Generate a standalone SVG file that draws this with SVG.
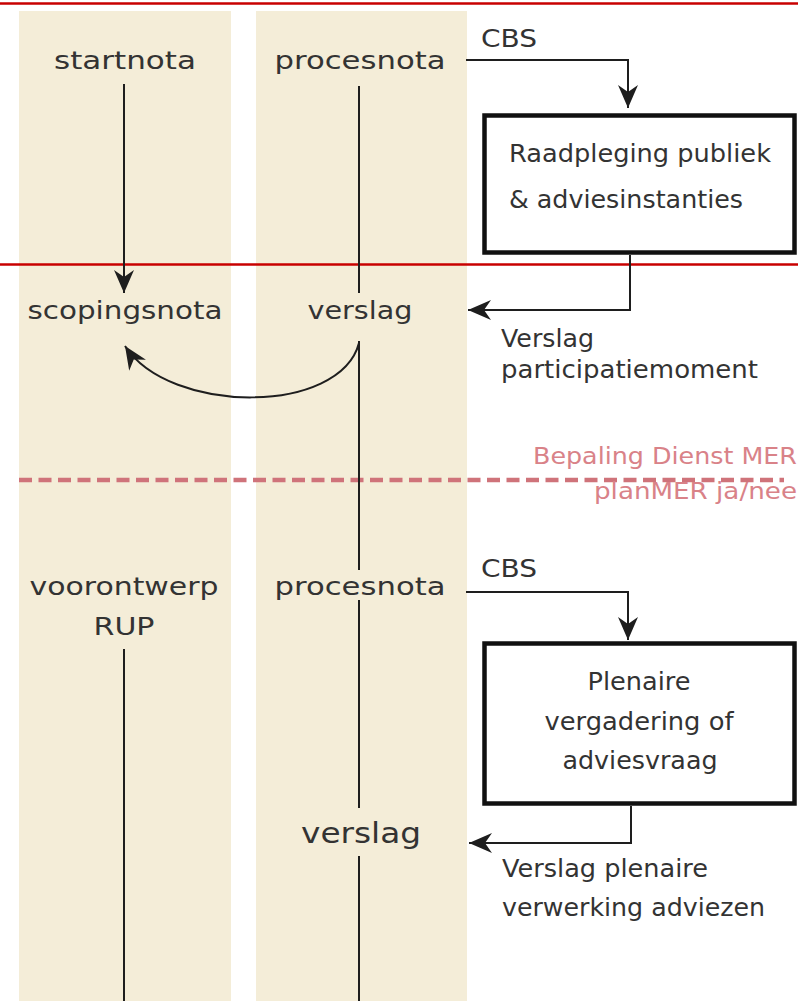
<svg xmlns="http://www.w3.org/2000/svg" width="798" height="1001" viewBox="0 0 798 1001">
<style>
.band{fill:#F4EDD8}
.red{stroke:#C80000;stroke-width:2.5}
.dash{stroke:#CF737A;stroke-width:4.5;stroke-dasharray:13 6.5;fill:none}
.t{font-family:"DejaVu Sans","Noto Sans",sans-serif;fill:#333}
.big{font-size:25px}
.sm{font-size:24px}
.pink{fill:#D98288;font-size:23px}
.c{text-anchor:middle}
.e{text-anchor:end}
.box{fill:#fff;stroke:#111;stroke-width:4.5}
.ln{stroke:#1e1e1e;stroke-width:2;fill:none}
</style>
<defs>
<marker id="ah" viewBox="-24 -11 25 22" refX="0" refY="0" markerWidth="25" markerHeight="22" markerUnits="userSpaceOnUse" orient="auto">
<path d="M0,0 L-23,-10 L-16,0 L-23,10 Z" fill="#1e1e1e"/>
</marker>
</defs>
<rect width="798" height="1001" fill="#fff"/>
<g id="bands">
<rect class="band" x="19" y="11" width="212" height="990"/>
<rect class="band" x="256" y="11" width="211" height="990"/>
</g>
<g id="phase-lines">
<line class="red" x1="0" y1="3.5" x2="798" y2="3.5"/>
<line class="red" x1="0" y1="264.5" x2="798" y2="264.5"/>
<line class="dash" x1="19" y1="480" x2="784" y2="480"/>
</g>
<g id="connectors">
<line class="ln" x1="124" y1="84" x2="124" y2="293" marker-end="url(#ah)"/>
<line class="ln" x1="359" y1="86" x2="359" y2="293"/>
<line class="ln" x1="359" y1="341" x2="359" y2="570"/>
<line class="ln" x1="359" y1="600" x2="359" y2="808"/>
<line class="ln" x1="359" y1="856" x2="359" y2="1001"/>
<line class="ln" x1="124" y1="649" x2="124" y2="1001"/>
<path class="ln" d="M466,60 H628 V108" marker-end="url(#ah)"/>
<path class="ln" d="M630,255 V310 H468" marker-end="url(#ah)"/>
<path class="ln" d="M359,343 C340,415 170,415 125,346" marker-end="url(#ah)"/>
<path class="ln" d="M466,592 H628 V640" marker-end="url(#ah)"/>
<path class="ln" d="M631,806 V843 H469" marker-end="url(#ah)"/>
</g>
<g id="startnota"><text class="t big c" x="125" y="69" textLength="142" lengthAdjust="spacingAndGlyphs">startnota</text></g>
<g id="procesnota1"><text class="t big c" x="360" y="69" textLength="171" lengthAdjust="spacingAndGlyphs">procesnota</text></g>
<g id="cbs1"><text class="t sm" x="481" y="47" textLength="56" lengthAdjust="spacingAndGlyphs">CBS</text></g>
<g id="raadpleging">
<rect class="box" x="484.5" y="115.5" width="310" height="137"/>
<text class="t sm" x="509" y="162" textLength="262" lengthAdjust="spacingAndGlyphs">Raadpleging publiek</text>
<text class="t sm" x="509" y="208" textLength="234" lengthAdjust="spacingAndGlyphs">&amp; adviesinstanties</text>
</g>
<g id="scopingsnota"><text class="t big c" x="125" y="319" textLength="195" lengthAdjust="spacingAndGlyphs">scopingsnota</text></g>
<g id="verslag1"><text class="t big c" x="360" y="319" textLength="105" lengthAdjust="spacingAndGlyphs">verslag</text></g>
<g id="verslag-participatie">
<text class="t sm" x="501" y="347" textLength="93" lengthAdjust="spacingAndGlyphs">Verslag</text>
<text class="t sm" x="501" y="378" textLength="257" lengthAdjust="spacingAndGlyphs">participatiemoment</text>
</g>
<g id="bepaling-mer">
<text class="t e pink" x="797" y="464" textLength="264" lengthAdjust="spacingAndGlyphs">Bepaling Dienst MER</text>
<text class="t e pink" x="797" y="499" textLength="203" lengthAdjust="spacingAndGlyphs">planMER ja/nee</text>
</g>
<g id="voorontwerp">
<text class="t big c" x="124" y="595" textLength="189" lengthAdjust="spacingAndGlyphs">voorontwerp</text>
<text class="t big c" x="124" y="635" textLength="61" lengthAdjust="spacingAndGlyphs">RUP</text>
</g>
<g id="procesnota2"><text class="t big c" x="360" y="595" textLength="171" lengthAdjust="spacingAndGlyphs">procesnota</text></g>
<g id="cbs2"><text class="t sm" x="481" y="577" textLength="56" lengthAdjust="spacingAndGlyphs">CBS</text></g>
<g id="plenaire">
<rect class="box" x="484.5" y="643.5" width="310" height="160"/>
<text class="t sm c" x="639" y="690" textLength="103" lengthAdjust="spacingAndGlyphs">Plenaire</text>
<text class="t sm c" x="639" y="730" textLength="189" lengthAdjust="spacingAndGlyphs">vergadering of</text>
<text class="t sm c" x="640" y="769" textLength="155" lengthAdjust="spacingAndGlyphs">adviesvraag</text>
</g>
<g id="verslag2"><text class="t c" style="font-size:28px" x="361" y="843" textLength="120" lengthAdjust="spacingAndGlyphs">verslag</text></g>
<g id="verslag-plenaire">
<text class="t sm" x="502" y="877" textLength="206" lengthAdjust="spacingAndGlyphs">Verslag plenaire</text>
<text class="t sm" x="502" y="916" textLength="263" lengthAdjust="spacingAndGlyphs">verwerking adviezen</text>
</g>
</svg>
